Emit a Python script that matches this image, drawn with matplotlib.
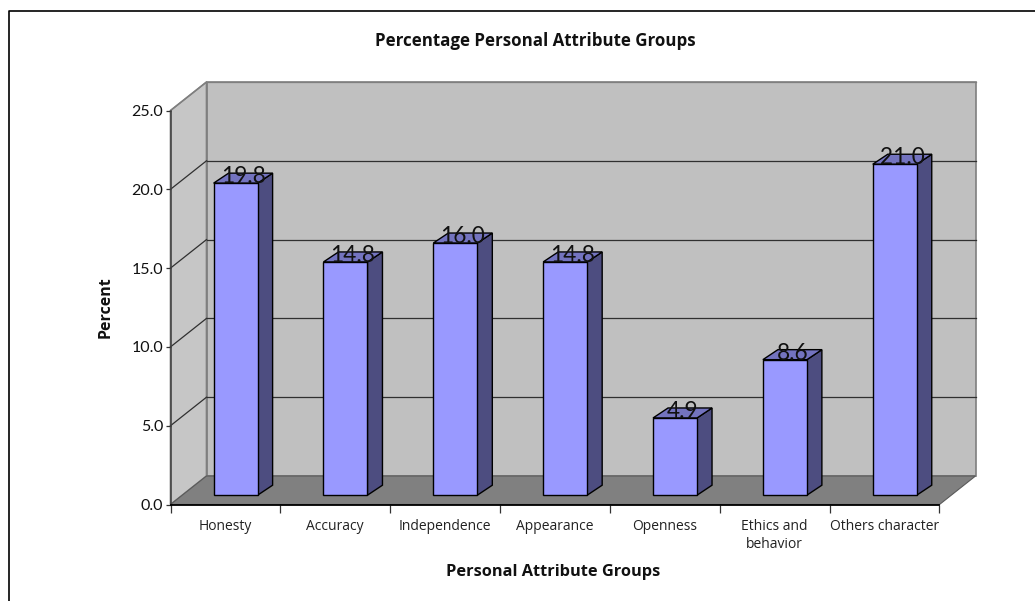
import matplotlib
matplotlib.use("Agg")
import matplotlib.pyplot as plt
from matplotlib.patches import Polygon

categories = ["Honesty", "Accuracy", "Independence", "Appearance", "Openness",
              "Ethics and\nbehavior", "Others character"]
values = [19.8, 14.8, 16.0, 14.8, 4.9, 8.6, 21.0]
y_ticks = [0, 5, 10, 15, 20, 25]

W, H = 1035, 601
plt.rcParams["font.family"] = ["Lato", "DejaVu Sans"]
fig = plt.figure(figsize=(W / 100, H / 100), dpi=100)
L, R, T, B = 170.5, 939.5, 110.5, 504.5
ax = fig.add_axes([L / W, 1 - B / H, (R - L) / W, (B - T) / H])
n = len(categories)
ax.set_xlim(0, n)
ax.set_ylim(0, 25)
ax.patch.set_visible(False)

px = n / (R - L)          # data units per pixel, x
py = 25 / (B - T)         # data units per pixel, y
DX, DY = 36 * px, 28.5 * py   # depth of the box
GREY = "#7f7f7f"


def poly(pts, fc, ec="none", lw=0.0, z=1):
    ax.add_patch(Polygon(pts, closed=True, fc=fc, ec=ec, lw=lw, zorder=z,
                         clip_on=False, joinstyle="miter"))


# walls and floor
poly([(DX, DY), (n + DX, DY), (n + DX, 25 + DY), (DX, 25 + DY)], "#c0c0c0", GREY, 1.2, 1)
poly([(0, 0), (DX, DY), (DX, 25 + DY), (0, 25)], "#c6c6c6", GREY, 1.2, 1)
poly([(0, 0), (n, 0), (n + DX, DY), (DX, DY)], "#808080", "#5a5a5a", 0.8, 2)

# gridlines
for v in y_ticks[1:]:
    c = GREY if v == 25 else "#303030"
    ax.plot([DX, n + DX], [v + DY, v + DY], color=c, lw=0.9, zorder=2, clip_on=False)
    ax.plot([0, DX], [v, v + DY], color=c, lw=0.9, zorder=2, clip_on=False)

# 3-D bars
BW = 44 * px
F0X, F0Y = 11 * px, 9.3 * py     # front face offset from front plane
SX, SY = 15 * px, 10 * py        # bar depth
for i, v in enumerate(values):
    x0 = i + 0.5 - BW / 2 + 0.5 * F0X * 1.85
    x1 = x0 + BW
    y0 = F0Y
    y1 = y0 + v
    poly([(x1, y0), (x1 + SX, y0 + SY), (x1 + SX, y1 + SY), (x1, y1)], "#4d4d80", "black", 1.0, 5 + i)
    poly([(x0, y1), (x1, y1), (x1 + SX, y1 + SY), (x0 + SX, y1 + SY)], "#7373bf", "black", 1.0, 5 + i)
    poly([(x0, y0), (x1, y0), (x1, y1), (x0, y1)], "#9999ff", "black", 1.0, 5 + i)
    ax.annotate(f"{v:.1f}", xy=((x0 + x1 + SX) / 2, y1), xytext=(0, 6.5 * 0.72),
                textcoords="offset points", ha="center", va="center",
                fontsize=16.3, color="#111111", zorder=30)

# axes
for s in ("top", "right"):
    ax.spines[s].set_visible(False)
ax.spines["left"].set_color("#404040")
ax.spines["left"].set_linewidth(1.1)
ax.spines["bottom"].set_color("black")
ax.spines["bottom"].set_linewidth(1.3)
ax.spines["bottom"].set_zorder(3)
ax.set_yticks(y_ticks)
ax.set_yticklabels([f"{v:.1f}" for v in y_ticks], fontsize=11.5, color="#111111")
ax.tick_params(axis="y", length=5 * 0.72, width=0.9, color="#333333", pad=1.5)
ax.set_xticks(range(n + 1))
ax.set_xticklabels([""] * (n + 1))
ax.tick_params(axis="x", which="major", length=8 * 0.72, width=0.9, color="#333333")
ax.set_xticks([i + 0.5 for i in range(n)], minor=True)
ax.set_xticklabels(categories, minor=True, fontsize=10, color="#222222", linespacing=1.3,
                   family="Open Sans")
ax.tick_params(axis="x", which="minor", length=0, pad=10.5)

# chart frame (open at the right and bottom, as cropped)
fig.add_artist(plt.Line2D([8.5 / W, 8.5 / W, 1], [0, 1 - 11 / H, 1 - 11 / H],
                          color="black", lw=1.2, transform=fig.transFigure))

fig.text(535.5 / W, 1 - 41 / H, "Percentage Personal Attribute Groups", fontsize=12.2,
         fontweight="bold", ha="center", va="center", color="#111111", family="Open Sans")
fig.text(553.5 / W, 1 - 572 / H, "Personal Attribute Groups", fontsize=11.8,
         fontweight="bold", ha="center", va="center", color="#111111", family="Open Sans")
fig.text(106 / W, 1 - 307 / H, "Percent", fontsize=11.5, fontweight="bold",
         rotation=90, ha="center", va="center", color="#111111", family="Open Sans")

fig.savefig("out.png", dpi=100)
